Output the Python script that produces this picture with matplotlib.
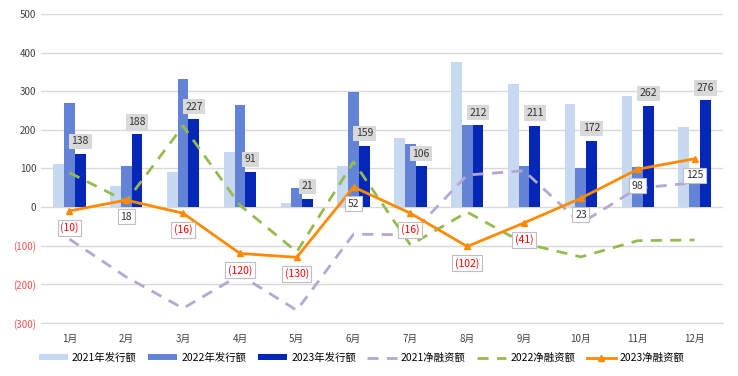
import numpy as np
import matplotlib
matplotlib.use("Agg")
import matplotlib.pyplot as plt
from matplotlib.ticker import FuncFormatter

plt.rcParams['font.family'] = ['Noto Sans CJK SC', 'DejaVu Sans']

# data
months = ['1月', '2月', '3月', '4月', '5月', '6月', '7月', '8月', '9月', '10月', '11月', '12月']
issue_2021 = [111, 55, 91, 142, 10, 107, 178, 375, 319, 267, 288, 208]
issue_2022 = [269, 106, 332, 264, 49, 298, 163, 212, 106, 101, 104, 67]
issue_2023 = [138, 188, 227, 91, 21, 159, 106, 212, 211, 172, 262, 276]
net_2021 = [-83, -181, -262, -176, -267, -70, -72, 83, 94, -42, 49, 63]
net_2022 = [89, 15, 210, 5, -116, 117, -98, -13, -94, -129, -87, -85]
net_2023 = [-10, 18, -16, -120, -130, 52, -16, -102, -41, 23, 98, 125]

def fmt(v):
    return '(%d)' % abs(v) if v < 0 else '%d' % v

fig = plt.figure(figsize=(7.38, 3.76), dpi=100)
ax = fig.add_axes([0.0556, 0.141, 0.924, 0.822])

x = np.arange(len(months))
w = 0.19
b1 = ax.bar(x - w, issue_2021, w, color='#c6d9f0', label='2021年发行额', zorder=2)
b2 = ax.bar(x, issue_2022, w, color='#6384d6', label='2022年发行额', zorder=2)
b3 = ax.bar(x + w, issue_2023, w, color='#0527b8', label='2023年发行额', zorder=2)

l1, = ax.plot(x, net_2021, color='#b4a7d2', lw=2, ls=(0, (4, 3)), label='2021净融资额', zorder=3)
l2, = ax.plot(x, net_2022, color='#95bb4f', lw=2, ls=(0, (4, 3)), label='2022净融资额', zorder=3)
l3, = ax.plot(x, net_2023, color='#ff8a00', lw=2, marker='^', ms=5, label='2023净融资额', zorder=4)

# labels on 2023 issuance bars
for xi, v in zip(x, issue_2023):
    ax.annotate(str(v), (xi + w, v), xytext=(0, 9), textcoords='offset points',
                ha='center', va='center', fontsize=7.5, color='#333333', zorder=5,
                bbox=dict(boxstyle='square,pad=0.25', fc='#d9d9d9', ec='none'))

# labels on 2023 net financing line
for xi, v in zip(x, net_2023):
    ax.annotate(fmt(v), (xi, v), xytext=(0, -12), textcoords='offset points',
                ha='center', va='center', fontsize=7.5,
                color='#ff0000' if v < 0 else '#333333', zorder=6,
                bbox=dict(boxstyle='square,pad=0.25', fc='white', ec='#bfbfbf', lw=0.8))

ax.set_xlim(-0.5, 11.5)
ax.set_ylim(-300, 500)
ax.set_yticks(range(-300, 501, 100))
ax.yaxis.set_major_formatter(FuncFormatter(lambda v, p: fmt(int(v))))
ax.set_xticks(x)
ax.set_xticklabels(months)
ax.tick_params(length=0, labelsize=7, colors='#404040')
ax.tick_params(axis='x', pad=8)
for lab, v in zip(ax.get_yticklabels(), range(-300, 501, 100)):
    if v < 0:
        lab.set_color('#ff5050')

ax.grid(axis='y', color='#d9d9d9', lw=1, zorder=0)
for s in ['top', 'right', 'left']:
    ax.spines[s].set_visible(False)
ax.spines['bottom'].set_color('#d9d9d9')

fig.legend([b1, b2, b3, l1, l2, l3],
           ['2021年发行额', '2022年发行额', '2023年发行额', '2021净融资额', '2022净融资额', '2023净融资额'],
           loc='lower center', bbox_to_anchor=(0.49, 0.01), ncol=6, frameon=False,
           fontsize=7.5, handlelength=2.8, columnspacing=1.1, handletextpad=0.4,
           handleheight=0.5)

fig.savefig('out.png', dpi=100)
